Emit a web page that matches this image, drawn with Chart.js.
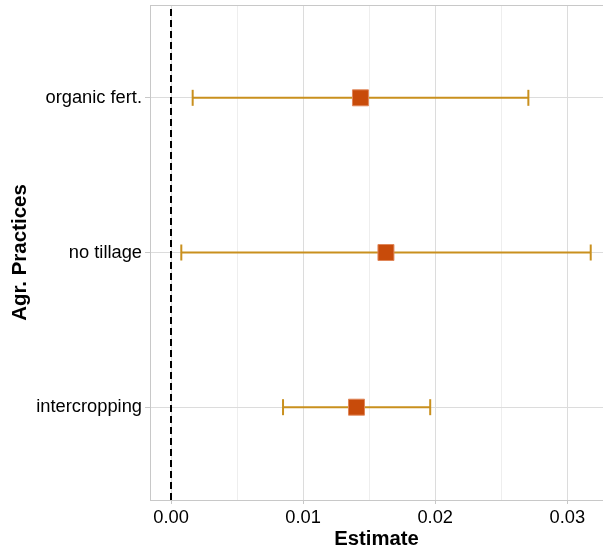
<!DOCTYPE html>
<html>
<head>
<meta charset="utf-8">
<script src="https://cdn.jsdelivr.net/npm/chart.js@4"></script>
<style>
  body { margin: 0; background: #fff; }
</style>
</head>
<body>
<canvas id="chart" width="603" height="550"></canvas>
<script>
// данные (снизу вверх)
const practices = ['intercropping', 'no tillage', 'organic fert.'];
const estimates = [0.01404, 0.01627, 0.01434];
const lower = [0.00848, 0.00078, 0.00164];
const upper = [0.01962, 0.03177, 0.02705];
const xTicks = [0, 0.005, 0.01, 0.015, 0.02, 0.025, 0.03];

const barColor = '#C9901E';
const font = 'Liberation Sans, Arial, sans-serif';

// доверительные интервалы — отдельная линия на каждую практику
const intervalSets = practices.map((p, i) => ({
  label: p,
  data: [{ x: lower[i], y: i + 1 }, { x: upper[i], y: i + 1 }],
  showLine: true,
  borderColor: barColor,
  borderWidth: 2,
  pointStyle: 'line',
  pointRadius: 8,
  pointRotation: 90,
  pointBorderColor: barColor,
  pointBorderWidth: 2,
  order: 2
}));

const isMajor = v => Math.abs(v * 100 - Math.round(v * 100)) < 1e-6;

// рамка панели
const panelBorder = {
  id: 'panelBorder',
  afterDraw(chart) {
    const a = chart.chartArea;
    const ctx = chart.ctx;
    ctx.save();
    ctx.strokeStyle = '#c8c8c8';
    ctx.lineWidth = 1;
    ctx.strokeRect(a.left + 0.5, a.top + 0.5, a.right - a.left, a.bottom - a.top);
    ctx.restore();
  }
};

new Chart(document.getElementById('chart'), {
  type: 'scatter',
  data: {
    datasets: [
      {
        label: 'Estimate',
        data: estimates.map((v, i) => ({ x: v, y: i + 1 })),
        pointStyle: 'rect',
        pointRadius: 11.3,
        backgroundColor: '#C84B0A',
        borderColor: '#E0875A',
        borderWidth: 1,
        order: 1
      },
      ...intervalSets,
      {
        label: 'zero',
        data: [{ x: 0, y: 0.4 }, { x: 0, y: 3.6 }],
        showLine: true,
        pointRadius: 0,
        borderColor: '#000',
        borderWidth: 2,
        borderDash: [7, 4],
        order: 3
      }
    ]
  },
  options: {
    responsive: false,
    animation: false,
    layout: { autoPadding: false, padding: { top: 5, right: 0, left: 0, bottom: 0 } },
    plugins: {
      legend: { display: false },
      tooltip: { enabled: false }
    },
    scales: {
      x: {
        type: 'linear',
        min: -0.00159,
        max: 0.0327,
        afterBuildTicks: scale => { scale.ticks = xTicks.map(v => ({ value: v })); },
        afterFit: scale => {
          scale.height = 50;
          scale.paddingLeft = 0;
          scale.paddingRight = 0;
        },
        ticks: {
          autoSkip: false,
          maxRotation: 0,
          padding: 3,
          color: '#000',
          font: { family: font, size: 18.3 },
          callback: v => isMajor(v) ? v.toFixed(2) : ''
        },
        grid: {
          color: ctx => isMajor(ctx.tick.value) ? '#dcdcdc' : '#eeeeee',
          tickColor: ctx => isMajor(ctx.tick.value) ? '#c8c8c8' : 'rgba(0,0,0,0)',
          tickLength: 4,
          lineWidth: 1
        },
        border: { color: '#c8c8c8' },
        title: {
          display: true,
          text: 'Estimate',
          color: '#000',
          font: { family: font, size: 20.3, weight: 'bold', lineHeight: 1.0 },
          padding: { top: 0, bottom: 0 }
        }
      },
      y: {
        type: 'linear',
        min: 0.4,
        max: 3.6,
        afterBuildTicks: scale => { scale.ticks = practices.map((p, i) => ({ value: i + 1 })); },
        afterFit: scale => {
          scale.width = 150;
          scale.paddingTop = 0;
          scale.paddingBottom = 0;
        },
        ticks: {
          autoSkip: false,
          padding: 3,
          color: '#000',
          font: { family: font, size: 18.3 },
          callback: v => practices[v - 1]
        },
        grid: {
          color: '#dcdcdc',
          tickColor: '#c8c8c8',
          tickLength: 5
        },
        border: { color: '#c8c8c8' },
        title: {
          display: true,
          text: 'Agr. Practices',
          color: '#000',
          font: { family: font, size: 20.5, weight: 'bold' },
          padding: { top: 8, bottom: 0 }
        }
      }
    }
  },
  plugins: [panelBorder]
});
</script>
</body>
</html>
